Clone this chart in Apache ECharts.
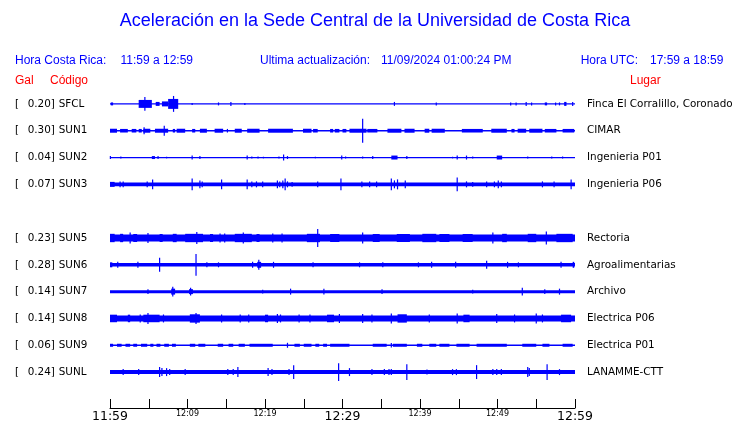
<!DOCTYPE html>
<html><head><meta charset="utf-8">
<script src="https://cdn.jsdelivr.net/npm/echarts@6/dist/echarts.min.js"></script>
<style>html,body{margin:0;padding:0;background:#fff}#c{width:740px;height:423px}</style>
</head><body><div id="c"></div>
<script>
// ---------- data ----------
const titleText = 'Aceleración en la Sede Central de la Universidad de Costa Rica';
const headerLocal = ['Hora Costa Rica:', '11:59 a 12:59'];
const headerUpdate = ['Ultima actualización:', '11/09/2024 01:00:24 PM'];
const headerUTC = ['Hora UTC:', '17:59 a 18:59'];
const colHeads = ['Gal', 'Código', 'Lugar'];
const tickLabels = ['11:59','','12:09','','12:19','','12:29','','12:39','','12:49','','12:59'];
const codes = ['SFCL','SUN1','SUN2','SUN3','','SUN5','SUN6','SUN7','SUN8','SUN9','SUNL'];
const gal = [0.20,0.30,0.04,0.07,null,0.23,0.28,0.14,0.14,0.06,0.24];
const places = ['Finca El Corralillo, Coronado','CIMAR','Ingenieria P01','Ingenieria P06','','Rectoria','Agroalimentarias','Archivo','Electrica P06','Electrica P01','LANAMME-CTT'];
// continuous noise half-amplitude of each trace (trace units, rows are 27 units apart)
const noiseFloor = [0.6,0.7,0.6,2,null,3.4,1.8,1.5,3,0.7,2];
// bursts: [start minute, end minute, half-amplitude] (minutes after 11:59)
const evSFCL = [[0.1,0.4,1.5],[3.7,5.4,4],[4.5,4.5,7],[5.9,6.4,2],[6.7,7.5,2.5],[7.5,8.8,5],[8.2,8.2,8],[10.6,10.6,1],[14.0,14.0,1.5],[15.6,15.6,2],[17.4,17.4,1],[36.7,36.7,2],[42.1,42.1,1.5],[51.7,51.7,1.5],[52.4,52.4,1.5],[53.7,53.7,2],[54.4,54.4,1.5],[56.1,56.4,1.5],[57.5,57.5,1.5],[58.0,58.0,1.5],[58.6,58.9,2],[59.7,59.7,2]];
const evSUN1 = [[0,0.9,2],[1.3,2.3,1.8],[2.8,3.4,1.8],[3.7,4.1,1.8],[4.3,5.2,2],[4.4,4.4,3.5],[5.8,7.5,2],[7.0,7.0,5],[8.1,8.4,1.8],[8.6,9.7,2],[10.6,11.0,1.8],[11.6,12.5,2],[13.5,14.6,2],[15.1,15.2,1.8],[16.1,17.0,2],[17.7,19.3,2],[20.4,23.6,2],[24.9,26.0,2],[26.2,26.8,1.8],[28.4,28.8,1.8],[29.0,29.6,1.8],[30.0,30.5,1.8],[30.9,33.1,2],[32.6,32.6,12],[33.2,34.5,1.8],[35.8,37.6,2],[38.0,39.3,2],[40.6,41.2,2],[41.5,43.2,2],[45.4,48.1,1.8],[49.2,51.2,2],[51.8,52.2,1.8],[52.6,53.7,2],[54.1,55.8,2],[56.1,57.6,1.8],[58.4,59.9,1.8]];
const evSUN2 = [[0,0.1,1.5],[1.4,1.4,1],[5.4,5.8,1.5],[6.2,6.2,1.5],[7.3,7.3,0.8],[10.6,10.6,2],[11.6,11.6,1.5],[17.7,17.7,2],[18.3,18.3,1],[19.1,19.1,1],[19.8,19.8,0.8],[21.8,21.8,1],[22.4,22.4,3],[22.9,22.9,1.5],[26.5,26.5,0.8],[29.9,29.9,2],[30.4,30.4,1],[32.6,32.6,1],[33.9,33.9,1.5],[36.3,37.1,2],[38.3,38.3,1.5],[44.2,44.2,0.8],[44.8,44.8,2],[46.0,46.0,2],[46.8,46.8,1],[49.9,50.6,2],[53.9,53.9,1],[57.0,57.0,1],[58.4,58.4,1]];
const evSUN3 = [[0,0.6,2.5],[1.3,1.3,3],[1.7,1.7,3],[4.8,4.8,3],[5.5,5.5,5],[10.6,10.6,6],[11.6,11.6,4],[11.9,11.9,3],[14.4,14.4,5],[17.7,17.7,5],[18.3,18.3,3],[18.9,18.9,3],[19.7,19.7,3],[21.6,21.6,4],[21.9,21.9,3],[22.3,22.3,4],[22.6,22.6,6],[22.9,22.9,3],[23.5,23.5,2.5],[26.8,26.8,3],[29.8,29.8,6],[32.5,32.5,3],[33.5,33.5,3],[34.4,34.4,3],[36.3,36.3,6],[36.7,36.7,4],[37.1,37.1,5],[38.1,38.1,4],[44.8,44.8,7],[46.0,46.0,3],[46.8,46.8,2.5],[48.6,48.6,3],[49.6,49.6,3],[50.1,50.1,4],[50.5,50.5,3],[55.8,55.8,3],[57.3,57.3,3],[59.5,59.5,5]];
const evSUN5 = [[0,0.6,4.2],[1.3,1.7,4.2],[2.6,2.6,5.5],[3.0,3.5,4],[4.9,4.9,5],[6.4,6.8,4],[8.1,8.6,4.2],[9.7,12.0,4.2],[11.2,11.2,6],[12.9,13.3,4],[14.2,14.2,4.5],[14.8,14.8,4.5],[16.1,18.3,4.2],[17.2,17.2,5.5],[18.9,19.3,4],[21.0,21.0,4.5],[22.2,22.2,4.5],[25.4,27.1,4.2],[26.8,26.8,9],[28.4,29.6,4],[32.6,32.6,5.5],[33.9,34.8,4],[37.0,38.7,4],[40.3,42.1,4.2],[42.5,43.8,4],[45.5,46.8,4],[49.4,49.4,5.5],[50.6,51.2,4.2],[53.9,55.0,4.2],[56.3,56.3,6.5],[57.6,59.7,4.2]];
const evSUN6 = [[0,0.3,2.5],[1.0,1.0,3],[3.6,3.6,3],[6.4,6.4,7],[11.1,11.1,11],[12.5,12.5,2.5],[14.0,14.0,2.5],[18.4,18.4,3],[19.0,19.5,3],[19.2,19.2,5],[21.1,21.1,3],[26.2,26.2,2.5],[32.2,32.2,2.5],[35.2,35.2,2.5],[39.8,39.8,2.5],[41.5,41.5,3],[44.6,44.6,3],[48.6,48.6,4],[51.3,51.3,3],[52.7,52.7,2.5],[58.2,58.2,3],[59.7,59.9,3]];
const evSUN7 = [[4.9,4.9,2.5],[7.9,8.4,3],[8.1,8.1,5],[10.2,10.7,2.5],[10.4,10.4,4],[19.7,19.7,2],[23.3,23.3,3],[27.6,27.6,3],[35.1,35.1,2.5],[46.8,46.8,2],[53.2,53.2,4],[56.1,56.1,2.5],[58.0,58.0,3]];
const evSUN8 = [[0,0.9,3.8],[2.3,2.6,3.8],[3.9,3.9,4],[4.3,6.4,3.8],[4.9,4.9,5.5],[6.9,6.9,4],[10.3,11.6,4.2],[11.1,11.1,5.5],[14.4,14.4,4],[16.8,16.8,4],[17.9,17.9,4],[20.0,20.4,3.8],[21.6,21.6,4.5],[22.0,22.0,4],[24.4,24.4,4],[25.8,25.8,4],[28.0,28.9,3.8],[29.6,29.6,4.5],[32.6,32.6,4.5],[33.8,33.8,4],[36.3,36.3,5],[37.1,38.3,4.2],[41.2,41.2,4],[44.8,44.8,5],[45.6,46.4,3.8],[49.9,49.9,4.5],[52.2,52.2,4],[55.0,55.0,5],[55.8,55.8,4],[58.2,59.5,3.8]];
const evSUN9 = [[0,0.4,1.5],[0.9,1.5,1.5],[2.0,2.6,1.5],[3.0,3.5,1.5],[4.0,4.8,1.5],[5.2,5.6,1.5],[6.0,6.5,1.5],[7.0,7.6,1.5],[8.0,8.5,1.5],[10.3,11.0,1.5],[11.4,12.3,1.5],[13.9,14.6,1.5],[15.3,15.9,1.5],[16.6,17.4,1.5],[18.0,21.0,1.5],[22.9,22.9,2.5],[23.8,24.5,1.5],[25.0,26.0,1.5],[26.5,27.0,1.5],[27.5,28.0,1.5],[28.4,30.9,1.5],[33.9,35.7,1.5],[36.3,36.3,2.2],[36.5,38.3,1.5],[39.6,40.3,1.5],[41.2,42.1,1.5],[42.5,43.8,1.5],[44.7,46.4,1.5],[47.3,51.2,1.5],[53.2,55.0,1.5],[55.8,56.7,1.5],[58.4,59.7,1.5]];
const evSUNL = [[1.7,1.7,3],[3.7,3.7,3],[6.4,6.4,5],[6.7,6.7,4],[7.3,7.3,4],[7.7,7.7,3],[9.7,9.7,3],[15.2,15.2,3],[15.9,15.9,3],[16.5,16.5,5],[20.4,20.4,4],[20.9,20.9,3],[23.1,23.1,3],[23.7,23.7,7],[29.5,29.5,9],[30.9,30.9,4],[33.8,33.8,3],[35.4,35.4,3],[36.0,36.0,3],[36.3,36.3,3],[38.3,38.3,8],[40.9,40.9,2.5],[44.2,44.2,3],[44.7,44.7,3],[47.3,47.3,7],[49.4,49.4,3],[49.9,49.9,3],[50.5,50.5,3],[53.9,53.9,5],[54.1,54.1,4],[56.4,56.4,8],[58.0,58.0,3]];
const events = [evSFCL, evSUN1, evSUN2, evSUN3, null, evSUN5, evSUN6, evSUN7, evSUN8, evSUN9, evSUNL];

// ---------- chart ----------
const ROW = 27, BLUE = '#0000ff', RED = '#ff0000';
const traceData = [];
codes.forEach((c, i) => {
  if (!c) return;
  const yc = -i * ROW;
  traceData.push([0, 60, yc, noiseFloor[i]]);
  events[i].forEach(e => traceData.push([e[0], e[1], yc, e[2]]));
});

function renderItem(params, api) {
  const t0 = api.value(0), t1 = api.value(1), yc = api.value(2), a = api.value(3);
  const p0 = api.coord([t0, yc + a]);
  const p1 = api.coord([t1, yc - a]);
  let x = p0[0], w = p1[0] - p0[0], y = p0[1], h = p1[1] - p0[1];
  if (w < 1.2) { x -= (1.2 - w) / 2; w = 1.2; }
  if (h < 1.2) { y -= (1.2 - h) / 2; h = 1.2; }
  return { type: 'rect', shape: { x: x, y: y, width: w, height: h }, style: { fill: BLUE } };
}

const chart = echarts.init(document.getElementById('c'), null, { renderer: 'canvas' });
function txt(x, y, s, fill, size, align) {
  return { type: 'text', x: x, y: y, style: { text: s, fill: fill, fontFamily: 'Liberation Sans', fontSize: size, textAlign: align || 'left', textVerticalAlign: 'middle' } };
}
chart.setOption({
  animation: false,
  backgroundColor: '#fff',
  grid: { left: 110, right: 165, top: 90.5, bottom: 35.5, containLabel: false },
  xAxis: {
    type: 'value', min: 0, max: 60, interval: 5, offset: 22.5,
    axisLine: { show: true, onZero: false, lineStyle: { color: '#000', width: 1 } },
    axisTick: { show: true, inside: true, length: 9, lineStyle: { color: '#000' } },
    splitLine: { show: false },
    axisLabel: {
      margin: 2, showMinLabel: true, showMaxLabel: true,
      formatter: function (v) {
        const s = tickLabels[Math.round(v / 5)];
        if (!s) return '';
        return (v % 30 === 0) ? '{big|' + s + '}' : '{small|' + s + '}';
      },
      rich: {
        big: { fontFamily: 'DejaVu Sans', fontSize: 12.5, color: '#000' },
        small: { fontFamily: 'DejaVu Sans', fontSize: 8, color: '#000', padding: [0, 0, 2, 0] }
      }
    }
  },
  yAxis: [
    { type: 'value', min: -10.5 * ROW, max: 0.5 * ROW, show: false },
    {
      type: 'category', data: codes, inverse: true, position: 'left',
      axisLine: { show: false }, axisTick: { show: false }, splitLine: { show: false },
      axisLabel: {
        interval: 0, align: 'left', margin: 95,
        formatter: function (v, i) {
          if (!codes[i]) return '';
          return '{a|[}{v|' + gal[i].toFixed(2) + ']}{c|' + codes[i] + '}';
        },
        rich: {
          a: { width: 12.7, fontFamily: 'DejaVu Sans', fontSize: 10.4, color: '#000' },
          v: { width: 31, fontFamily: 'DejaVu Sans', fontSize: 10.4, color: '#000' },
          c: { fontFamily: 'DejaVu Sans', fontSize: 10.4, color: '#000' }
        }
      }
    },
    {
      type: 'category', data: places, inverse: true, position: 'right',
      axisLine: { show: false }, axisTick: { show: false }, splitLine: { show: false },
      axisLabel: { interval: 0, align: 'left', margin: 12, fontFamily: 'DejaVu Sans', fontSize: 10.4, color: '#000' }
    }
  ],
  series: [{
    type: 'custom', renderItem: renderItem, data: traceData,
    xAxisIndex: 0, yAxisIndex: 0, encode: { x: [0, 1], y: [2] }, clip: false, silent: true
  }],
  graphic: [
    txt(375, 21, titleText, BLUE, 18, 'center'),
    txt(15, 60.5, headerLocal[0], BLUE, 12),
    txt(120.5, 60.5, headerLocal[1], BLUE, 12),
    txt(260, 60.5, headerUpdate[0], BLUE, 12),
    txt(381, 60.5, headerUpdate[1], BLUE, 12),
    txt(580.7, 60.5, headerUTC[0], BLUE, 12),
    txt(650, 60.5, headerUTC[1], BLUE, 12),
    txt(15, 80.5, colHeads[0], RED, 12),
    txt(50, 80.5, colHeads[1], RED, 12),
    txt(630, 80.5, colHeads[2], RED, 12)
  ]
});
</script></body></html>
